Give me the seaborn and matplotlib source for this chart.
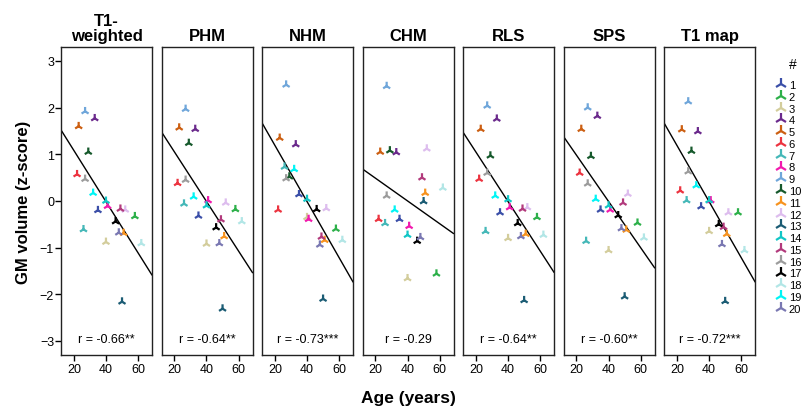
import seaborn as sns
import matplotlib.pyplot as plt
import pandas as pd

# Data (20 subjects, same ages in every panel)
subjects = [str(i) for i in range(1, 21)]
ages = [35, 58, 40, 33, 23, 22, 26, 41, 27, 29, 51, 52, 50, 40, 49, 27, 46, 62, 32, 48]

t1w   = [-0.20, -0.33, -0.88, 1.77, 1.60, 0.57, -0.61, -0.11, 1.92, 1.05,
         -0.69, -0.19, -2.16, 0.00, -0.17, 0.47, -0.44, -0.91, 0.17, -0.68]
phm   = [-0.32, -0.18, -0.92, 1.54, 1.57, 0.38, -0.06, 0.01, 1.97, 1.24,
         -0.76, -0.04, -2.31, -0.10, -0.40, 0.45, -0.57, -0.44, 0.09, -0.91]
nhm   = [0.14, -0.60, -0.35, 1.21, 1.35, -0.19, 0.73, -0.39, 2.49, 0.52,
         -0.84, -0.16, -2.10, 0.04, -0.77, 0.48, -0.18, -0.84, 0.68, -0.94]
chm   = [-0.39, -1.56, -1.66, 1.04, 1.05, -0.39, -0.48, -0.54, 2.46, 1.08,
         0.17, 1.12, -0.01, -0.73, 0.50, 0.11, -0.86, 0.28, -0.19, -0.78]
rls   = [-0.25, -0.35, -0.80, 1.76, 1.54, 0.47, -0.65, -0.14, 2.04, 0.97,
         -0.71, -0.14, -2.13, 0.03, -0.17, 0.60, -0.48, -0.73, 0.11, -0.76]
sps   = [-0.19, -0.47, -1.06, 1.82, 1.54, 0.60, -0.86, -0.19, 2.00, 0.96,
         -0.62, 0.15, -2.05, -0.10, -0.04, 0.37, -0.31, -0.79, 0.04, -0.59]
t1map = [-0.12, -0.25, -0.65, 1.49, 1.53, 0.22, 0.01, 0.01, 2.13, 1.07,
         -0.71, -0.25, -2.15, 0.01, -0.56, 0.63, -0.50, -1.06, 0.33, -0.93]

panel_titles = ["T1-\nweighted", "PHM", "NHM", "CHM", "RLS", "SPS", "T1 map"]
panel_values = [t1w, phm, nhm, chm, rls, sps, t1map]
r_labels = ["r = -0.66**", "r = -0.64**", "r = -0.73***", "r = -0.29",
            "r = -0.64**", "r = -0.60**", "r = -0.72***"]

colors = ["#3B4FA8", "#2DB04A", "#D3CD9C", "#6B2A8C", "#CC5F12", "#EC3440",
          "#45B8B8", "#F21AAE", "#6FA6DA", "#16592C", "#F7931E", "#DDBDEE",
          "#1B5C74", "#12C6C6", "#B23A7C", "#9C9C9C", "#000000", "#B2E6E6",
          "#00F5F5", "#7A78B2"]
palette = dict(zip(subjects, colors))

sns.set_theme(style="ticks")
plt.rcParams['font.family'] = ['Liberation Sans', 'DejaVu Sans']
plt.rcParams['axes.edgecolor'] = '#222222'
plt.rcParams['axes.linewidth'] = 1.0
plt.rcParams['text.color'] = 'black'
plt.rcParams['axes.labelcolor'] = 'black'
plt.rcParams['axes.titlecolor'] = 'black'
plt.rcParams['xtick.color'] = 'black'
plt.rcParams['ytick.color'] = 'black'

fig, axes = plt.subplots(1, 7, figsize=(8.09, 4.10), dpi=100, sharey=True)
fig.subplots_adjust(left=0.0754, right=0.9335, bottom=0.132, top=0.883, wspace=0.104)

for i, ax in enumerate(axes):
    df = pd.DataFrame({"age": ages, "gm": panel_values[i], "subject": subjects})
    ax.set_xlim(12, 68.7)
    ax.set_ylim(-3.3, 3.3)
    sns.regplot(data=df, x="age", y="gm", ax=ax, scatter=False, ci=None,
                truncate=False, color="black", line_kws=dict(linewidth=1.0))
    sns.scatterplot(data=df, x="age", y="gm", hue="subject", hue_order=subjects,
                    palette=palette, marker="2", s=40, linewidth=1.6,
                    ax=ax, legend=(i == 6), zorder=3)
    ax.set_xlim(12, 68.7)
    ax.set_ylim(-3.3, 3.3)
    ax.set_title(panel_titles[i], fontsize=12, fontweight="bold", pad=5,
                 linespacing=1.0)
    ax.text(0.5, 0.052, r_labels[i], transform=ax.transAxes, ha="center",
            va="center", fontsize=9)
    ax.set_xticks([20, 40, 60])
    ax.tick_params(axis="x", labelsize=9, length=4, width=1, pad=2)
    ax.set_xlabel("")
    ax.set_ylabel("")
    if i == 0:
        ax.set_yticks([-3, -2, -1, 0, 1, 2, 3])
        ax.tick_params(axis="y", labelsize=9, length=4, width=1, pad=1)
    else:
        ax.tick_params(axis="y", left=False, labelleft=False)

axes[0].set_ylabel("GM volume (z-score)", fontsize=12, fontweight="bold", labelpad=6)
fig.text(408 / 809, 1 - 399 / 410, "Age (years)", ha="center", va="center",
         fontsize=12.5, fontweight="bold")

# legend on the right, title drawn separately
leg = axes[6].get_legend()
handles = leg.legend_handles
labels = [t.get_text() for t in leg.get_texts()]
leg.remove()
fig.text(793 / 809, 1 - 65 / 410, "#", ha="center", va="center", fontsize=10)
fig.legend(handles, labels, loc="upper left",
           bbox_to_anchor=(777 / 809, 1 - 81 / 410), frameon=False, fontsize=8,
           handlelength=0.8, handletextpad=0.25, labelspacing=0.16,
           borderpad=0.0, borderaxespad=0.0, markerscale=1.3)

fig.savefig("out.png", dpi=100)
